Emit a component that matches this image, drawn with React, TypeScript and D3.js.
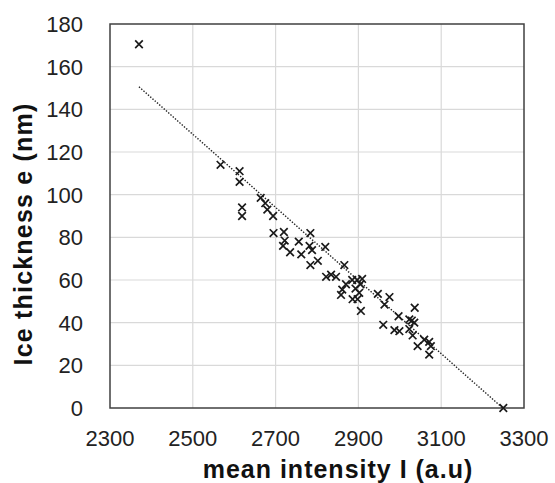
import React from "react";
import * as d3 from "d3";

const intensity = [
  2370, 2567, 2613, 2613, 2619, 2619, 2664, 2675, 2680, 2694, 2695, 2720, 2722, 2718,
  2735, 2756, 2762, 2784, 2782, 2788, 2820, 2784, 2802, 2866, 2822, 2834, 2846, 2885,
  2897, 2909, 2861, 2893, 2902, 2858, 2886, 2898, 2906, 2947, 2975, 2963, 3036, 2997,
  3023, 3029, 3035, 2960, 2987, 2999, 3023, 3031, 3043, 3059, 3071, 3075, 3071, 3250,
  2870, 2905,
];
const thickness = [
  170.5, 114, 111, 106, 94, 90, 98.5, 96, 93, 90, 82, 82.5, 78.5, 76,
  73, 78, 72, 82, 76, 74, 75.5, 67, 69, 67, 61.5, 62.5, 61.5, 60,
  60, 60.5, 55.5, 56, 54, 53, 51, 51, 45.5, 53.5, 52, 48.5, 47, 43,
  41.5, 41, 40, 39, 36.5, 36, 37, 34, 29, 32, 31, 29, 25, 0,
  58, 58,
];
const xTicks = [2300, 2500, 2700, 2900, 3100, 3300];
const yTicks = [0, 20, 40, 60, 80, 100, 120, 140, 160, 180];
const trendSlope = -0.1714;
const trendIntercept = 556.8;
const trendRange = [2370, 3250];

export default function App() {
  const W = 555, H = 483;
  const left = 110, right = 524, top = 24, bottom = 408;
  const x = d3.scaleLinear().domain([2300, 3300]).range([left, right]);
  const y = d3.scaleLinear().domain([0, 180]).range([bottom, top]);
  const trend = d3
    .line<number>()
    .x((d) => x(d))
    .y((d) => y(trendSlope * d + trendIntercept));
  const font = "Arial, 'Liberation Sans', sans-serif";
  const s = 3.8;
  return (
    <svg width={W} height={H} style={{ position: "absolute", left: 0, top: 0 }} fontFamily={font}>
      <rect width={W} height={H} fill="#fff" />
      {xTicks.slice(1, -1).map((t) => (
        <line key={"gx" + t} x1={x(t)} x2={x(t)} y1={top} y2={bottom} stroke="#d9d9d9" strokeWidth={1.2} />
      ))}
      {yTicks.slice(1, -1).map((t) => (
        <line key={"gy" + t} x1={left} x2={right} y1={y(t)} y2={y(t)} stroke="#d9d9d9" strokeWidth={1.2} />
      ))}
      <rect x={left} y={top} width={right - left} height={bottom - top} fill="none" stroke="#404040" strokeWidth={1.5} />
      <path d={trend(trendRange) || ""} fill="none" stroke="#222" strokeWidth={1.4} strokeDasharray="1.4,1.6" />
      {intensity.map((v, i) => {
        const cx = x(v), cy = y(thickness[i]);
        return (
          <path
            key={i}
            d={`M${cx - s},${cy - s}L${cx + s},${cy + s}M${cx - s},${cy + s}L${cx + s},${cy - s}`}
            stroke="#1a1a1a"
            strokeWidth={1.7}
          />
        );
      })}
      {yTicks.map((t) => (
        <text key={"ty" + t} x={83} y={y(t)} dy="0.36em" textAnchor="end" fontSize={22} fill="#222">
          {t}
        </text>
      ))}
      {xTicks.map((t) => (
        <text key={"tx" + t} x={x(t)} y={446} textAnchor="middle" fontSize={22} fill="#222">
          {t}
        </text>
      ))}
      <text x={338} y={478} textAnchor="middle" fontSize={25} fontWeight="bold" fill="#111" letterSpacing={1}>
        mean intensity I (a.u)
      </text>
      <text
        transform={`translate(32,234) rotate(-90)`}
        textAnchor="middle"
        fontSize={25}
        fontWeight="bold"
        fill="#111"
        letterSpacing={1.2}
      >
        Ice thickness e (nm)
      </text>
    </svg>
  );
}
